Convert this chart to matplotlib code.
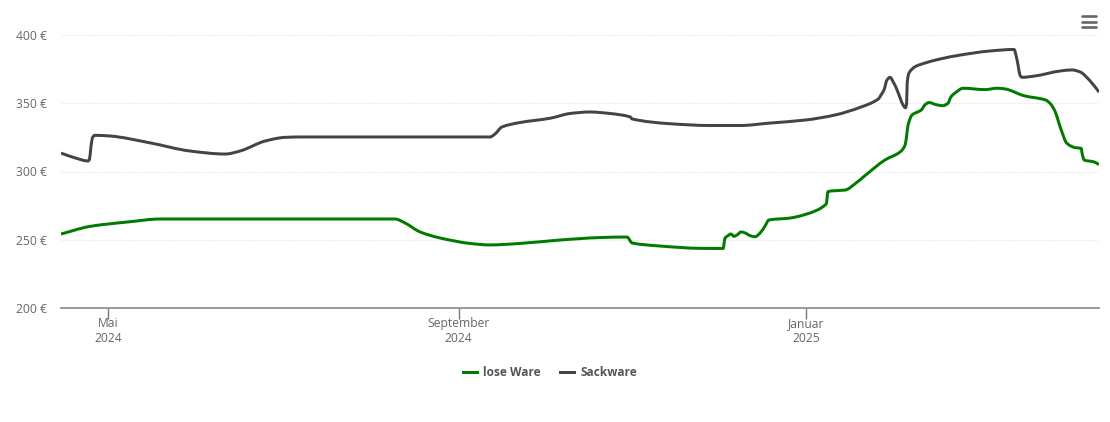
import numpy as np
import matplotlib
matplotlib.use("Agg")
import matplotlib.pyplot as plt
from matplotlib.lines import Line2D
from matplotlib.path import Path
from matplotlib.patches import PathPatch

plt.rcParams['font.family'] = ['Open Sans', 'DejaVu Sans']

# days since 1 May 2024, price in euro
sack_tage = [-16.5, -11.6, -7.0, -6.5, -6.0, -5.4, -4.6, 0.7, 14.7, 28.8, 41.1, 46.3, 55.1, 62.1, 67.4,
             134, 135.8, 138.2, 144.6, 155.1, 162.1, 169.1, 176.1, 183.2, 183.9, 197.2, 211.2, 221.8,
             232.3, 244.6, 255.1, 263.9, 270.2, 271.2, 272.3, 273.3, 274.4, 275.4, 276.8, 277.9, 279,
             279.8, 280.2, 280.4, 281, 283.2, 286.7, 291.9, 299, 309.5, 317.9, 318.6, 319.3, 320, 320.7,
             325.3, 334, 338.2, 341, 344.6, 347.7]
sack_preis = [313.5, 310, 307.7, 309, 318, 325, 326.5, 326, 321, 315, 312.8, 315, 322.3, 325, 325.3,
              325.3, 327.5, 332.6, 335.9, 339, 342.5, 343.6, 342.5, 340, 338.5, 335, 333.7, 333.7,
              335.5, 337.7, 341.4, 347, 353, 356, 360, 367, 369, 366, 360, 354, 348.5,
              346.7, 350, 365, 372, 376.8, 379.5, 382.4, 385.3, 388.3, 389.4, 385, 378, 370.5, 369,
              370, 373.6, 374.4, 373, 366.3, 358.2]

lose_tage = [-16.5, -6.3, 7.7, 18.2, 100.7, 104.2, 109.5, 116.5, 127, 134, 144.6, 158.6, 172.6, 182.1,
             183.9, 193.7, 207.7, 215.8, 216.5, 217.2, 218.6, 219.6, 220.7, 222.1, 223.5, 225.3, 227,
             228.8, 230.5, 231.9, 239.3, 244.6, 252, 252.6, 254, 258.6, 262.1, 265.6, 272.6, 277.9,
             279.6, 280.2, 280.7, 282.1, 285.3, 286.7, 288.1, 290.5, 293, 294.7, 295.8, 297.5, 300,
             307.7, 311.9, 314.7, 321.4, 328.8, 330.5, 332.3, 333.7, 335.1, 336.1, 337.5, 339.3, 341.4,
             341.9, 342.5, 346, 347.7]
lose_preis = [254.2, 259.8, 263.2, 265.2, 265.2, 262.3, 255.7, 251.3, 247.3, 246.2, 247.3, 249.8, 251.6, 252,
              247.6, 245.4, 243.7, 243.6, 251.3, 252.5, 254.2, 252.5, 253.5, 255.7, 255, 253, 252.2,
              255, 260, 264.5, 265.9, 268.5, 276.2, 285.2, 285.8, 286.4, 291, 297, 308.4, 314.3,
              319, 326, 334, 341.4, 345, 349, 350.5, 349, 348.2, 350, 354.8, 358, 361,
              360, 361, 360.5, 355.5, 352.5, 350, 344, 335, 326.7, 321.5, 319, 317.5, 317,
              312, 308.4, 307, 305]

y_ticks = [200, 250, 300, 350, 400]
x_ticks = [0, 123, 245]
x_labels = ["Mai\n2024", "September\n2024", "Januar\n2025"]

grau = "#666666"
gruen = "#007a00"
dunkel = "#434348"


def kurve(x, y):
    # smooth monotone bezier through the read values, like the spline of the original chart
    x = np.array(x, dtype=float)
    y = np.array(y, dtype=float)
    dx = np.diff(x)
    s = np.diff(y) / dx
    m = np.zeros(len(x))
    m[0], m[-1] = s[0], s[-1]
    for i in range(1, len(x) - 1):
        if s[i - 1] * s[i] > 0:
            m[i] = 2 * s[i - 1] * s[i] / (s[i - 1] + s[i])
    verts = [(x[0], y[0])]
    codes = [Path.MOVETO]
    for i in range(len(dx)):
        verts += [(x[i] + dx[i] / 3, y[i] + m[i] * dx[i] / 3),
                  (x[i + 1] - dx[i] / 3, y[i + 1] - m[i + 1] * dx[i] / 3),
                  (x[i + 1], y[i + 1])]
        codes += [Path.CURVE4] * 3
    return Path(verts, codes)


fig = plt.figure(figsize=(11.1, 4.22), dpi=100)
ax = fig.add_axes([61 / 1110, (422 - 308) / 422, (1099 - 61) / 1110, (308 - 35) / 422])

ax.add_patch(PathPatch(kurve(lose_tage, lose_preis), fill=False, edgecolor=gruen, lw=2.15, joinstyle="round"))
ax.add_patch(PathPatch(kurve(sack_tage, sack_preis), fill=False, edgecolor=dunkel, lw=2.15, joinstyle="round"))

ax.set_xlim(-16.5, 347.7)
ax.set_ylim(200, 400)

ax.set_yticks(y_ticks)
ax.set_yticklabels([f"{v} €" for v in y_ticks])
ax.set_xticks(x_ticks)
ax.set_xticklabels(x_labels, linespacing=1.12)
ax.tick_params(axis="y", length=0, pad=10, labelsize=8.7, labelcolor=grau)
ax.tick_params(axis="x", length=8, width=1, color="#777777", pad=-1.2, labelsize=8.7, labelcolor=grau)

ax.grid(axis="y", color="#e6e6e6", lw=0.8, ls=(0, (1, 1)))
ax.set_axisbelow(True)
for s in ["top", "right", "left"]:
    ax.spines[s].set_visible(False)
ax.spines["bottom"].set_color("#888888")
ax.spines["bottom"].set_linewidth(1.2)

# legend under the axis
griffe = [Line2D([], [], color=gruen, lw=2.15, label="lose Ware"),
          Line2D([], [], color=dunkel, lw=2.15, label="Sackware")]
leg = fig.legend(handles=griffe, loc="center", bbox_to_anchor=(550 / 1110, 1 - 373 / 422), ncol=2, frameon=False,
                 handlelength=1.15, handletextpad=0.55, columnspacing=1.6,
                 prop={"size": 8.6, "weight": "bold"})
for t in leg.get_texts():
    t.set_color("#555555")

# menu icon top right
for py in [16, 21.5, 27]:
    fig.add_artist(Line2D([1081.5 / 1110, 1095.5 / 1110], [1 - py / 422, 1 - py / 422],
                          color=grau, lw=1.9, solid_capstyle="round"))

fig.savefig("out.png", dpi=100)
